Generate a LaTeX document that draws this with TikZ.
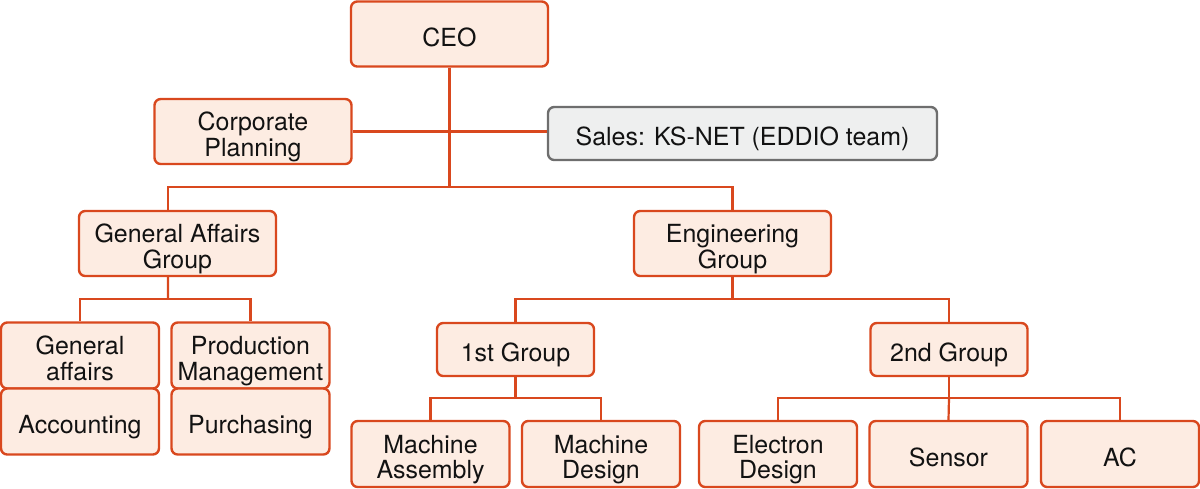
\documentclass[tikz,border=0pt]{standalone}
\usepackage{fontspec}
\setmainfont{TeX Gyre Heros}
\definecolor{orgline}{HTML}{D9481E}
\definecolor{orgfill}{HTML}{FDECE2}
\definecolor{salesline}{HTML}{6E6E6E}
\definecolor{salesfill}{HTML}{EEEFEF}
% box text, set a little below the middle of the box
\newcommand{\orgtext}[1]{\raisebox{-3.6pt}[\height][\depth]{%
  \begin{tabular}{@{}c@{}}#1\end{tabular}}}
\begin{document}
\begin{tikzpicture}[x=0.02cm, y=-0.02cm,
        every node/.style={font=\fontsize{14.2}{13.8}\selectfont, text=black!93},
        orgbox/.style={rectangle, rounded corners=3.5pt,
            align=center, text centered, inner sep=0pt,
            draw=orgline, fill=orgfill, line width=1.35pt},
        topbox/.style={orgbox, minimum width=3.94cm, minimum height=1.3cm},
        unitbox/.style={orgbox, minimum width=3.16cm, minimum height=1.32cm},
        groupbox/.style={orgbox, minimum width=3.14cm, minimum height=1.06cm},
        salesbox/.style={orgbox, draw=salesline, fill=salesfill,
            minimum width=7.78cm, minimum height=1.06cm},
        link/.style={draw=orgline, line width=1.25pt}
      ]
      \useasboundingbox (0,0) rectangle (1200,488);
      % top level
      \node[topbox] (ceo) at (449.5, 34) {\orgtext{CEO}};
      \node[topbox] (cp) at (253, 131.5) {\orgtext{Corporate\\Planning}};
      \node[salesbox] (sales) at (742.5, 133.5) {\orgtext{Sales: KS-NET (EDDIO team)}};
      \node[topbox] (gag) at (177.5, 243.5) {\orgtext{General Affairs\\Group}};
      \node[topbox] (eng) at (732.5, 243.5) {\orgtext{Engineering\\Group}};
      % general affairs side
      \node[unitbox] (ga) at (80, 355.5) {\orgtext{General\\affairs}};
      \node[unitbox] (acc) at (80, 421.5) {\orgtext{Accounting}};
      \node[unitbox] (pm) at (250.5, 355.5) {\orgtext{Production\\Management}};
      \node[unitbox] (pur) at (250.5, 421.5) {\orgtext{Purchasing}};
      % engineering side
      \node[groupbox] (g1) at (515.5, 349.5) {\orgtext{1st Group}};
      \node[groupbox] (g2) at (949, 349.5) {\orgtext{2nd Group}};
      \node[unitbox] (ma) at (430.5, 454) {\orgtext{Machine\\Assembly}};
      \node[unitbox] (md) at (601, 454) {\orgtext{Machine\\Design}};
      \node[unitbox] (ed) at (778, 454) {\orgtext{Electron\\Design}};
      \node[unitbox] (sen) at (948.5, 454) {\orgtext{Sensor}};
      \node[unitbox] (ac) at (1120, 454) {\orgtext{AC}};
      % connectors
      \coordinate (topbus) at (449.5, 187);
      \coordinate (gabus) at (168, 299);
      \coordinate (engbus) at (732.5, 299);
      \coordinate (g1bus) at (515.5, 398);
      \coordinate (g2bus) at (949, 398);
      \draw[link] (ceo.south) -- (topbus);
      \draw[link] (cp.east) -- (cp.east -| sales.west);
      \draw[link] (topbus) -| ([xshift=-0.19cm]gag.north);
      \draw[link] (topbus) -| (eng.north);
      \draw[link] ([xshift=-0.19cm]gag.south) -- (gabus);
      \draw[link] (gabus) -| (ga.north);
      \draw[link] (gabus) -| (pm.north);
      \draw[link] (eng.south) -- (engbus);
      \draw[link] (engbus) -| (g1.north);
      \draw[link] (engbus) -| (g2.north);
      \draw[link] (g1.south) -- (g1bus);
      \draw[link] (g1bus) -| (ma.north);
      \draw[link] (g1bus) -| (md.north);
      \draw[link] (g2.south) -- (g2bus);
      \draw[link] (g2bus) -| (ed.north);
      \draw[link] (g2bus) -- (sen.north);
      \draw[link] (g2bus) -| (ac.north);
    \end{tikzpicture}
\end{document}
